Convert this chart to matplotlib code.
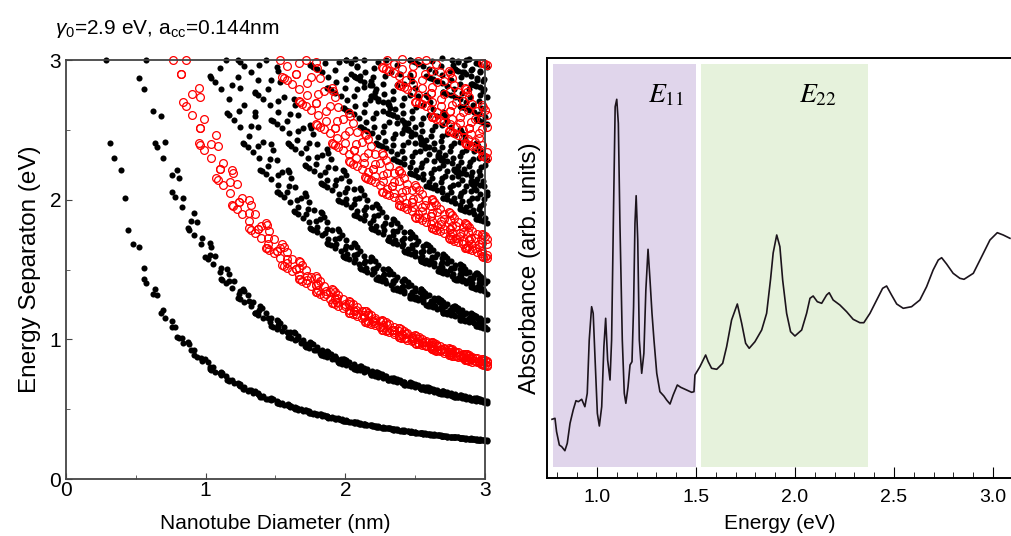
import numpy as np
import matplotlib
matplotlib.use('Agg')
import matplotlib.pyplot as plt
from matplotlib.ticker import MultipleLocator

plt.rcParams['font.family'] = ['Liberation Sans', 'DejaVu Sans']
plt.rcParams['mathtext.fontset'] = 'custom'
plt.rcParams['mathtext.rm'] = 'Liberation Sans'
plt.rcParams['mathtext.it'] = 'Liberation Sans:italic'

# ── Kataura plot inputs (tight-binding parameters from the chart title) ──
GAMMA0 = 2.9        # eV
ACC = 0.144         # nm
N_INDEX = np.arange(1, 45)          # chiral index n
D_RANGE = (0.2, 3.02)               # nm
E_RANGE = (0.05, 3.015)             # eV

# ── Absorbance spectrum (arb. units) ──
energy = [0.773, 0.788, 0.796, 0.810, 0.822, 0.838, 0.850, 0.864, 0.880, 0.894,
          0.906, 0.923, 0.939, 0.951, 0.961, 0.973, 0.981, 0.990, 1.002, 1.012,
          1.024, 1.035, 1.044, 1.054, 1.066, 1.074, 1.084, 1.092, 1.100, 1.108,
          1.116, 1.128, 1.138, 1.146, 1.157, 1.167, 1.177, 1.185, 1.192, 1.198,
          1.206, 1.214, 1.226, 1.237, 1.247, 1.258, 1.268, 1.278, 1.288, 1.302,
          1.318, 1.338, 1.352, 1.369, 1.385, 1.406, 1.423, 1.453, 1.478, 1.490,
          1.495, 1.520, 1.549, 1.562, 1.579, 1.605, 1.635, 1.655, 1.680, 1.709,
          1.731, 1.751, 1.769, 1.798, 1.832, 1.857, 1.877, 1.890, 1.908, 1.924,
          1.938, 1.958, 1.978, 2.000, 2.034, 2.059, 2.076, 2.092, 2.113, 2.135,
          2.160, 2.173, 2.193, 2.227, 2.261, 2.294, 2.328, 2.348, 2.379, 2.413,
          2.443, 2.463, 2.488, 2.514, 2.547, 2.589, 2.631, 2.665, 2.698, 2.724,
          2.741, 2.766, 2.799, 2.833, 2.854, 2.901, 2.943, 2.985, 3.022, 3.052,
          3.086]
absorbance = [0.587, 0.597, 0.463, 0.330, 0.313, 0.273, 0.347, 0.547, 0.680, 0.773,
              0.763, 0.787, 0.713, 0.847, 1.380, 1.713, 1.647, 1.213, 0.647, 0.520,
              0.713, 1.313, 1.597, 1.180, 0.980, 1.380, 2.713, 3.713, 3.787, 3.547,
              2.550, 1.380, 0.847, 0.747, 0.913, 1.130, 1.163, 1.713, 2.547, 2.823,
              2.380, 1.380, 1.047, 1.247, 1.880, 2.287, 1.980, 1.647, 1.380, 1.047,
              0.863, 0.820, 0.780, 0.740, 0.830, 0.930, 0.907, 0.880, 0.857, 0.863,
              1.030, 1.113, 1.230, 1.163, 1.097, 1.087, 1.147, 1.313, 1.580, 1.740,
              1.547, 1.347, 1.297, 1.363, 1.480, 1.647, 1.990, 2.250, 2.430, 2.313,
              1.980, 1.647, 1.463, 1.420, 1.480, 1.647, 1.797, 1.820, 1.763, 1.747,
              1.830, 1.853, 1.780, 1.730, 1.663, 1.587, 1.553, 1.553, 1.647, 1.780,
              1.897, 1.920, 1.830, 1.740, 1.697, 1.713, 1.780, 1.913, 2.080, 2.180,
              2.203, 2.140, 2.047, 1.997, 1.987, 2.047, 2.213, 2.380, 2.453, 2.430,
              2.397]
e11_band = (0.778, 1.500)
e22_band = (1.525, 2.369)


# ── compute van Hove transition energies for every (n, m) ──
a = np.sqrt(3) * ACC
K = np.array([0.0, 4 * np.pi / (3 * a)])
qpar = np.linspace(-6, 6, 1201)


def graphene_w(kx, ky):
    c = np.cos(ky * a / 2)
    return np.sqrt(np.abs(1 + 4 * np.cos(np.sqrt(3) * kx * a / 2) * c + 4 * c ** 2))


semi_d, semi_e, metal_d, metal_e = [], [], [], []
for n in N_INDEX:
    for m in range(0, n + 1):
        L = a * np.sqrt(n * n + n * m + m * m)
        d = L / np.pi
        if d < D_RANGE[0] or d > D_RANGE[1]:
            continue
        ch = a * np.array([np.sqrt(3) / 2 * (n + m), (n - m) / 2]) / L
        tv = np.array([-ch[1], ch[0]])
        mus = np.arange(-40, 41)
        qperp = (2 / d) * (mus - (n - m) / 3)
        qperp = qperp[np.abs(qperp) < 4.5]
        kx = K[0] + qperp[:, None] * ch[0] + qpar[None, :] * tv[0]
        ky = K[1] + qperp[:, None] * ch[1] + qpar[None, :] * tv[1]
        e = 2 * GAMMA0 * graphene_w(kx, ky)
        idx = e.argmin(axis=1)
        emin = e[np.arange(len(qperp)), idx]
        ok = (idx > 0) & (idx < len(qpar) - 1) & (emin > E_RANGE[0]) & (emin <= E_RANGE[1])
        if (n - m) % 3 == 0:
            metal_d += [d] * int(ok.sum())
            metal_e += list(emin[ok])
        else:
            semi_d += [d] * int(ok.sum())
            semi_e += list(emin[ok])

fig = plt.figure(figsize=(10.11, 5.36), dpi=100)

# ── left: Kataura plot ──
ax1 = fig.add_axes([0.0653, 0.1063, 0.4144, 0.7817])
ax1.plot(semi_d, semi_e, 'o', color='black', ms=4.4, mew=0, clip_on=False)
ax1.plot(metal_d, metal_e, 'o', mfc='none', mec='#ff0000', ms=5.6, mew=0.9, clip_on=False)
ax1.set_xlim(0, 3)
ax1.set_ylim(0, 3)
ax1.xaxis.set_major_locator(MultipleLocator(1))
ax1.xaxis.set_minor_locator(MultipleLocator(0.5))
ax1.yaxis.set_major_locator(MultipleLocator(1))
ax1.yaxis.set_minor_locator(MultipleLocator(0.5))
ax1.tick_params(which='both', direction='in', labelsize=15, color='#444444')
ax1.tick_params(axis='x', pad=1.5)
ax1.tick_params(axis='y', pad=3.5)
ax1.tick_params(which='major', length=4)
ax1.tick_params(which='minor', length=3)
for s in ax1.spines.values():
    s.set_color('#444444')
    s.set_linewidth(1.3)
ax1.set_xlabel('Nanotube Diameter (nm)', fontsize=15, labelpad=10)
ax1.set_ylabel('Energy Separaton (eV)', fontsize=17.5, labelpad=6)
fig.text(0.054, 0.945, r'$\gamma_0$=2.9 eV, a$_{\mathrm{cc}}$=0.144nm', fontsize=15,
         ha='left', va='center')

# ── right: absorbance spectrum ──
ax2 = fig.add_axes([0.5415, 0.1082, 0.4602, 0.7836])
ax2.set_xlim(0.75, 3.1)
ax2.set_ylim(0, 4.2)
ax2.axvspan(*e11_band, ymin=0.026, ymax=0.986, color='#e0d5eb', lw=0)
ax2.axvspan(*e22_band, ymin=0.026, ymax=0.986, color='#e6f2dc', lw=0)
ax2.plot(energy, absorbance, color='#1c141c', lw=1.2)
ax2.text(1.35, 3.83, r'$E_{11}$', fontsize=20, ha='center', va='center', math_fontfamily='stix')
ax2.text(2.115, 3.83, r'$E_{22}$', fontsize=20, ha='center', va='center', math_fontfamily='stix')
ax2.xaxis.set_major_locator(MultipleLocator(0.5))
ax2.xaxis.set_minor_locator(MultipleLocator(0.1))
ax2.xaxis.set_major_formatter(plt.FormatStrFormatter('%.1f'))
ax2.set_yticks([])
ax2.tick_params(axis='x', which='both', direction='in', labelsize=14, pad=8)
ax2.tick_params(axis='x', which='major', length=8)
ax2.tick_params(axis='x', which='minor', length=4)
for s in ax2.spines.values():
    s.set_linewidth(1.4)
ax2.set_xlabel('Energy (eV)', fontsize=15, labelpad=6)
ax2.set_ylabel('Absorbance (arb. units)', fontsize=17.5, labelpad=5)

fig.savefig('out.png', dpi=100)
